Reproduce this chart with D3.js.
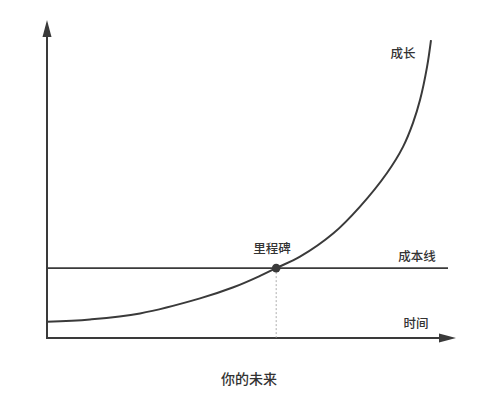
<!DOCTYPE html>
<html><head><meta charset="utf-8">
<script src="https://cdn.jsdelivr.net/npm/d3@7"></script>
<style>body{margin:0;background:#fff}svg{display:block}text{font-family:"Noto Sans CJK SC","Noto Sans",sans-serif;fill:#333;font-weight:500}</style>
</head><body><svg id="c" width="500" height="400"></svg>
<script>
// data
const growthTime  = [0, 10.75, 23.25, 38.25, 46.6, 53.25, 57.3, 63.25, 71.6, 78.25, 85, 89, 91.5, 93.25, 95, 96];
const growthValue = [5.4, 6.2, 8.2, 13.2, 16.9, 20.7, 23.3, 27.1, 34.9, 43.8, 55, 63.7, 71.7, 79.3, 90.3, 99.3];
const costValue = 23.3;
const milestoneTime = 57.3;
const labels = {growth:"成长", cost:"成本线", milestone:"里程碑", time:"时间", title:"你的未来"};

const svg = d3.select("#c");
const x = d3.scaleLinear().domain([0,100]).range([47,447]);
const y = d3.scaleLinear().domain([0,100]).range([338,38]);
const col = "#3a3a3a";

// axes
svg.append("line").attr("x1",x(0)).attr("y1",y(0)).attr("x2",x(0)).attr("y2",34)
  .attr("stroke",col).attr("stroke-width",2);
svg.append("path").attr("d",`M${x(0)},20 L${x(0)-4.5},37 L${x(0)+4.5},37 Z`).attr("fill",col);
svg.append("line").attr("x1",x(0)-1).attr("y1",y(0)).attr("x2",441).attr("y2",y(0))
  .attr("stroke",col).attr("stroke-width",2);
svg.append("path").attr("d",`M456,${y(0)} L439,${y(0)-4.5} L439,${y(0)+4.5} Z`).attr("fill",col);

// cost line
svg.append("line").attr("x1",x(0)).attr("x2",x(100)+1).attr("y1",y(costValue)).attr("y2",y(costValue))
  .attr("stroke",col).attr("stroke-width",1.8);

// dashed drop line
svg.append("line").attr("x1",x(milestoneTime)).attr("x2",x(milestoneTime))
  .attr("y1",y(costValue)).attr("y2",y(0)).attr("stroke","#999").attr("stroke-width",0.8)
  .attr("stroke-dasharray","2,2");

// growth curve
const pts = growthTime.map((t,i)=>[t,growthValue[i]]);
svg.append("path").datum(pts)
  .attr("d", d3.line().x(d=>x(d[0])).y(d=>y(d[1])).curve(d3.curveCatmullRom.alpha(0.5)))
  .attr("fill","none").attr("stroke",col).attr("stroke-width",2);

// milestone dot
svg.append("circle").attr("cx",x(milestoneTime)).attr("cy",y(costValue)).attr("r",4.3).attr("fill",col);

// labels
const fs = 12.5;
svg.append("text").attr("x",403).attr("y",52).attr("text-anchor","middle").attr("dominant-baseline","central")
  .attr("font-size",fs).text(labels.growth);
svg.append("text").attr("x",272).attr("y",247).attr("text-anchor","middle").attr("dominant-baseline","central")
  .attr("font-size",fs).text(labels.milestone);
svg.append("text").attr("x",417).attr("y",255).attr("text-anchor","middle").attr("dominant-baseline","central")
  .attr("font-size",fs).text(labels.cost);
svg.append("text").attr("x",416).attr("y",322).attr("text-anchor","middle").attr("dominant-baseline","central")
  .attr("font-size",fs).text(labels.time);
svg.append("text").attr("x",249).attr("y",378).attr("text-anchor","middle").attr("dominant-baseline","central")
  .attr("font-size",14).text(labels.title);
</script></body></html>
